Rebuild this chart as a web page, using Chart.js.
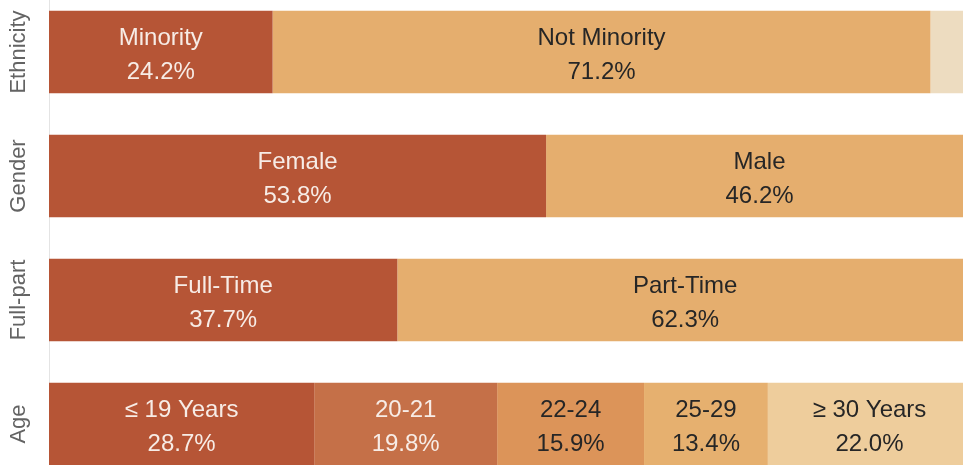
<!DOCTYPE html>
<html>
<head>
<meta charset="utf-8">
<script src="https://cdn.jsdelivr.net/npm/chart.js@4/dist/chart.umd.min.js"></script>
<style>
  html, body { margin: 0; padding: 0; background: #fff; overflow: hidden; }
  #wrap { position: absolute; left: 0; top: -10px; width: 963px; height: 496px; }
</style>
</head>
<body>
<div id="wrap"><canvas id="myChart"></canvas></div>
<script>
'use strict'

const categories = ['Ethnicity', 'Gender', 'Full-part', 'Age'];

const ethnicityLabels = ['Minority', 'Not Minority', ''];
const ethnicityValues = [24.2, 71.2, 4.6];

const genderLabels = ['Female', 'Male'];
const genderValues = [53.8, 46.2];

const fullPartLabels = ['Full-Time', 'Part-Time'];
const fullPartValues = [37.7, 62.3];

const ageLabels = ['≤ 19 Years', '20-21', '22-24', '25-29', '≥ 30 Years'];
const ageValues = [28.7, 19.8, 15.9, 13.4, 22.0];

// segment colours per category, darkest first
const segColors = {
  Ethnicity: ['#B65536', '#E5AE6E', '#EDDCC0'],
  Gender: ['#B65536', '#E5AE6E'],
  'Full-part': ['#B65536', '#E5AE6E'],
  Age: ['#B65536', '#C57048', '#DC9459', '#E6B06F', '#EECD9C']
};
const lightText = ['#B65536', '#C57048'];

const groups = [
  {labels: ethnicityLabels, values: ethnicityValues},
  {labels: genderLabels, values: genderValues},
  {labels: fullPartLabels, values: fullPartValues},
  {labels: ageLabels, values: ageValues}
];

const datasets = [];
for (let s = 0; s < 5; s++) {
  datasets.push({
    data: groups.map(g => g.values[s] ?? null),
    segLabels: groups.map(g => g.labels[s] ?? ''),
    backgroundColor: categories.map(c => segColors[c][s] || 'transparent'),
    borderWidth: 0,
    categoryPercentage: 1,
    barPercentage: 0.665
  });
}

const FONT = '"Liberation Sans", Arial, sans-serif';

const labelPlugin = {
  id: 'segLabels',
  afterDatasetsDraw(chart) {
    const ctx = chart.ctx;
    ctx.save();
    ctx.font = '24px ' + FONT;
    ctx.textAlign = 'center';
    ctx.textBaseline = 'alphabetic';
    chart.data.datasets.forEach((ds, i) => {
      const meta = chart.getDatasetMeta(i);
      meta.data.forEach((bar, j) => {
        const v = ds.data[j];
        const name = ds.segLabels[j];
        if (v == null || !name) return;
        const cx = (bar.x + bar.base) / 2;
        const col = ds.backgroundColor[j];
        ctx.fillStyle = lightText.includes(col) ? '#F7ECE6' : '#262626';
        ctx.fillText(name, cx, bar.y - 7);
        ctx.fillText(v.toFixed(1) + '%', cx, bar.y + 27);
      });
    });
    // rotated category names on the left
    const yScale = chart.scales.y;
    ctx.font = '22px ' + FONT;
    ctx.fillStyle = '#636363';
    ctx.textBaseline = 'middle';
    categories.forEach((c, i) => {
      const y = yScale.getPixelForValue(i);
      ctx.save();
      ctx.translate(19, y);
      ctx.rotate(-Math.PI / 2);
      ctx.fillText(c, 0, 0);
      ctx.restore();
    });
    ctx.restore();
  }
};

const DocumentReady = () => {
  const el = document.getElementById('myChart');
  new Chart(el, {
    type: 'bar',
    data: {labels: categories, datasets: datasets},
    options: {
      indexAxis: 'y',
      responsive: true,
      maintainAspectRatio: false,
      animation: false,
      layout: {padding: 0},
      plugins: {legend: {display: false}, tooltip: {enabled: false}},
      scales: {
        x: {stacked: true, display: false, min: 0, max: 98.92},
        y: {
          stacked: true,
          offset: true,
          grid: {display: false},
          border: {display: true, color: '#e4e4e4', dash: [1, 3], width: 1},
          ticks: {display: false},
          afterFit: (scale) => { scale.width = 49; }
        }
      }
    },
    plugins: [labelPlugin]
  });
};

document.addEventListener('DOMContentLoaded', DocumentReady);
</script>
</body>
</html>
